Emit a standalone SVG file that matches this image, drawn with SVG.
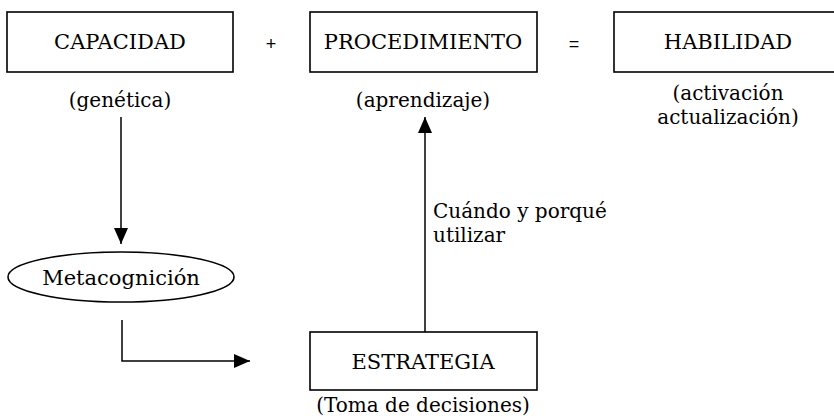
<svg xmlns="http://www.w3.org/2000/svg" width="834" height="419" viewBox="0 0 834 419">
<style>
  text { font-family: "DejaVu Serif", "Liberation Serif", serif; fill: #000; }
  .lbl { font-size: 21px; text-anchor: middle; }
  .sub { font-size: 20px; text-anchor: middle; }
  .note { font-size: 20px; }
  .op { font-size: 18px; text-anchor: middle; font-family: "Liberation Sans", sans-serif; }
  .box { fill: #fff; stroke: #000; stroke-width: 1.6; }
  .conn { fill: none; stroke: #000; stroke-width: 1.5; }
</style>
<defs>
  <marker id="ahb" viewBox="0 0 16 14" refX="16" refY="7" markerWidth="16" markerHeight="14" markerUnits="userSpaceOnUse" orient="auto">
    <path d="M0,0 L16,7 L0,14 Z" fill="#000"/>
  </marker>
</defs>
<rect width="834" height="419" fill="#fff"/>

<g id="capacidad">
  <rect class="box" x="7" y="12" width="226" height="60"/>
  <text class="lbl" x="120" y="49">CAPACIDAD</text>
  <text class="sub" x="120" y="107">(genética)</text>
</g>

<g id="plus">
  <text class="op" x="271" y="50">+</text>
</g>

<g id="procedimiento">
  <rect class="box" x="310" y="12" width="227" height="60"/>
  <text class="lbl" x="423" y="49">PROCEDIMIENTO</text>
  <text class="sub" x="423" y="107">(aprendizaje)</text>
</g>

<g id="equals">
  <text class="op" x="574" y="50">=</text>
</g>

<g id="habilidad">
  <rect class="box" x="614" y="12" width="240" height="60"/>
  <text class="lbl" x="728" y="49">HABILIDAD</text>
  <text class="sub" x="728" y="100">(activación</text>
  <text class="sub" x="728" y="124">actualización)</text>
</g>

<g id="metacognicion">
  <ellipse class="box" cx="121" cy="277" rx="113" ry="25"/>
  <text class="lbl" x="121" y="285">Metacognición</text>
</g>

<g id="estrategia">
  <rect class="box" x="310" y="332" width="227" height="58"/>
  <text class="lbl" x="423" y="369">ESTRATEGIA</text>
  <text class="sub" x="423" y="412">(Toma de decisiones)</text>
</g>

<g id="connectors">
  <line class="conn" x1="121" y1="117" x2="121" y2="244" marker-end="url(#ahb)"/>
  <polyline class="conn" points="122,320 122,361 250,361" marker-end="url(#ahb)"/>
  <line class="conn" x1="425" y1="332" x2="425" y2="117" marker-end="url(#ahb)"/>
  <text class="note" x="433" y="218">Cuándo y porqué</text>
  <text class="note" x="433" y="242">utilizar</text>
</g>
</svg>
